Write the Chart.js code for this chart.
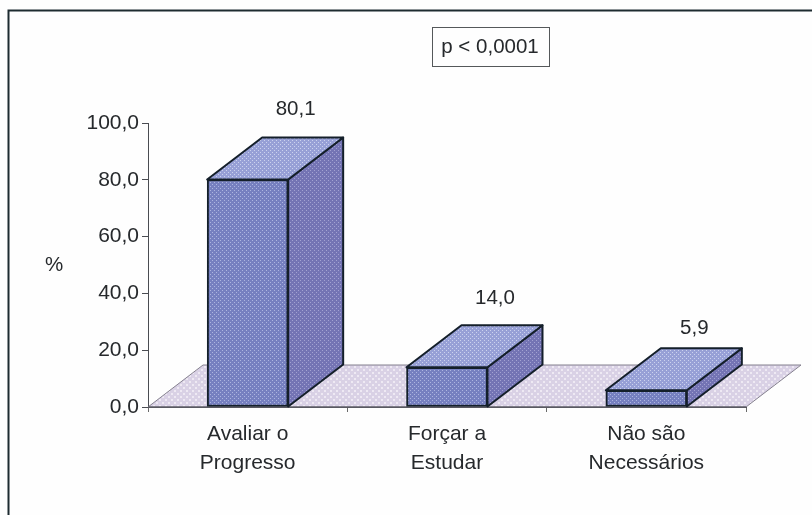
<!DOCTYPE html>
<html lang="pt">
<head>
<meta charset="utf-8">
<title>Gráfico</title>
<script src="https://cdn.jsdelivr.net/npm/chart.js@4"></script>
<style>
html,body{margin:0;padding:0;background:#fefefe;overflow:hidden}
canvas{display:block;filter:blur(.35px)}
</style>
</head>
<body>
<canvas id="c" width="812" height="515"></canvas>
<script>
const categories = [["Avaliar o","Progresso"],["Forçar a","Estudar"],["Não são","Necessários"]];
const percentages = [80.1, 14.0, 5.9];
const valueLabels = ["80,1","14,0","5,9"];
const yAxisTitle = "%";
const pNote = "p < 0,0001";

const FONT = '"Liberation Sans", Arial, sans-serif';
const INK = '#26292c';
const EDGE = '#141f2a';

function tile(size, base, dot, dotSize) {
  const t = document.createElement('canvas');
  t.width = t.height = size;
  const g = t.getContext('2d');
  g.fillStyle = base; g.fillRect(0,0,size,size);
  g.fillStyle = dot;
  g.fillRect(0,0,dotSize,dotSize);
  g.fillRect(size/2,size/2,dotSize,dotSize);
  return g.createPattern(t,'repeat');
}
const frontFill = tile(4,'#7680c0','#adb5e0',1);
const topFill   = tile(4,'#97a0d6','#ccd2ee',1);
const sideFill  = tile(4,'#7474b4','#a3a2d2',1);
const floorFill = tile(6,'#d9d1e5','#eee9f3',2);

const DX = 55, DY = -42;

function poly(c, pts, fill, stroke, lw) {
  c.beginPath();
  pts.forEach((p,i)=> i ? c.lineTo(p[0],p[1]) : c.moveTo(p[0],p[1]));
  c.closePath();
  if (fill) { c.fillStyle = fill; c.fill(); }
  if (stroke) { c.strokeStyle = stroke; c.lineWidth = lw; c.stroke(); }
}

const depth3d = {
  id: 'depth3d',
  beforeDatasetsDraw(chart) {
    const c = chart.ctx, a = chart.chartArea, b = a.bottom;
    c.save();
    c.lineJoin = 'round';
    // floor
    poly(c, [[a.left,b],[a.left+DX,b+DY],[a.right+DX,b+DY],[a.right,b]], floorFill, '#85818f', 1);
    c.beginPath(); c.moveTo(a.left,b); c.lineTo(a.right,b);
    c.strokeStyle = '#4a4c52'; c.lineWidth = 1.2; c.stroke();
    // side and top faces of each bar
    chart.getDatasetMeta(0).data.forEach(el => {
      const p = el.getProps(['x','y','base','width'], true);
      const L = p.x - p.width/2, R = p.x + p.width/2, T = p.y, B = p.base;
      poly(c, [[R,T],[R+DX,T+DY],[R+DX,B+DY],[R,B]], sideFill, EDGE, 2);
      poly(c, [[L,T],[L+DX,T+DY],[R+DX,T+DY],[R,T]], topFill, EDGE, 2);
    });
    c.restore();
  },
  afterDraw(chart, args, opts) {
    const c = chart.ctx;
    c.save();
    // outer frame (only top and left are in the picture)
    c.strokeStyle = '#1d2b30'; c.lineWidth = 2;
    c.beginPath(); c.moveTo(8.5,515); c.lineTo(8.5,10.5); c.lineTo(812,10.5); c.stroke();
    // value labels
    c.fillStyle = INK; c.font = '20.5px ' + FONT; c.textAlign = 'center'; c.textBaseline = 'middle';
    chart.getDatasetMeta(0).data.forEach((el,i) => {
      c.fillText(valueLabels[i], el.x + 48, el.y - opts.labelRise[i]);
    });
    // axis title
    c.fillText(yAxisTitle, 54, 265);
    // p note
    c.strokeStyle = '#55585a'; c.lineWidth = 1;
    c.strokeRect(432.5,27.5,117,39);
    c.fillText(pNote, 490, 47);
    c.restore();
  }
};

new Chart(document.getElementById('c'), {
  type: 'bar',
  data: {
    labels: categories,
    datasets: [{
      data: percentages,
      backgroundColor: frontFill,
      borderColor: EDGE,
      borderWidth: 2,
      borderSkipped: false,
      barThickness: 81
    }]
  },
  plugins: [depth3d],
  options: {
    responsive: false,
    animation: false,
    devicePixelRatio: 1,
    layout: { padding: { left: 0, top: 123, right: 66, bottom: 0 } },
    plugins: {
      legend: { display: false },
      tooltip: { enabled: false },
      depth3d: { labelRise: [70, 69, 62] }
    },
    scales: {
      x: {
        grid: { offset: true, drawOnChartArea: false, drawTicks: true, tickLength: 5, color: '#6a6a6a' },
        border: { color: '#4a4c52' },
        ticks: { color: INK, font: { family: FONT, size: 21, lineHeight: 1.38 }, padding: 8, maxRotation: 0, autoSkip: false },
        afterFit(s) { s.height = 108; }
      },
      y: {
        min: 0, max: 100,
        grid: { drawOnChartArea: false, drawTicks: true, tickLength: 6, color: '#4a4c52' },
        border: { color: '#4a4c52' },
        ticks: {
          stepSize: 20, color: INK, font: { family: FONT, size: 21 }, padding: 3,
          callback: v => v.toFixed(1).replace('.', ',')
        },
        afterFit(s) { s.width = 148; }
      }
    }
  }
});
</script>
</body>
</html>
